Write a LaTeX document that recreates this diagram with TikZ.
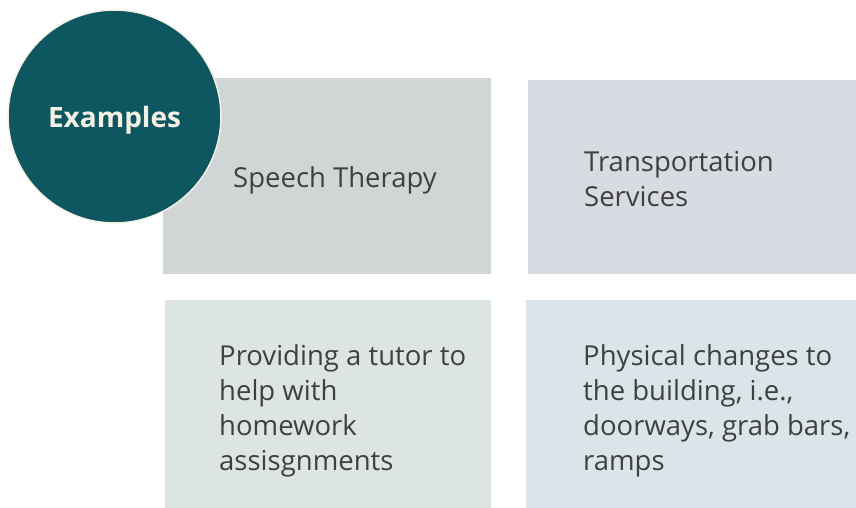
\documentclass[tikz,border=0pt]{standalone}
\usepackage{fontspec}
\setmainfont{Open Sans}
\usetikzlibrary{positioning}

\definecolor{tealdark}{HTML}{0E5761}
\definecolor{cream}{HTML}{F4F1E4}
\definecolor{textgray}{HTML}{404040}
\definecolor{boxgray}{HTML}{D1D5D6}
\definecolor{boxblue}{HTML}{D8DBE2}
\definecolor{boxmint}{HTML}{DDE5E3}
\definecolor{boxsky}{HTML}{D9E5E9}

\tikzset{
    card/.style={rectangle, anchor=north west, inner sep=0pt},
    cardtext/.style={align=left, text=textgray, inner sep=0pt,
        font=\fontsize{27.5}{35}\selectfont},
}

\begin{document}
\begin{tikzpicture}[x=1pt,y=-1pt]
    \useasboundingbox (0,0) rectangle (856,508);

    % Draw the four boxes
    \node[card, fill=boxgray, minimum width=328pt, minimum height=196pt] (speech) at (163,78) {};
    \node[card, fill=boxblue, minimum width=328pt, minimum height=194pt] (transport) at (528,80) {};
    \node[card, fill=boxmint, minimum width=326pt, minimum height=208pt] (tutor) at (165,300) {};
    \node[card, fill=boxsky, minimum width=330pt, minimum height=208pt] (building) at (526,300) {};

    % Put the texts in the boxes
    \node[cardtext, anchor=west, right=70pt of speech.west, yshift=-4pt] (speechtext) {Speech Therapy};
    \node[cardtext, anchor=west, right=56pt of transport.west, yshift=-2pt] (transporttext) {Transportation\\Services};
    \node[cardtext, anchor=west, right=54pt of tutor.west, yshift=-7pt] (tutortext) {Providing a tutor to\\help with\\homework\\assisgnments};
    \node[cardtext, anchor=west, right=57pt of building.west, yshift=-7pt] (buildingtext) {Physical changes to\\the building, i.e.,\\doorways, grab bars,\\ramps};

    % Draw the title circle
    \node[circle, fill=tealdark, draw=cream, line width=1.5pt, minimum size=213pt] (examples) at (114.5,116.5) {};
    \node[text=cream, font=\fontsize{28}{32}\selectfont\bfseries, yshift=-4pt] (title) at (examples) {Examples};
\end{tikzpicture}
\end{document}
